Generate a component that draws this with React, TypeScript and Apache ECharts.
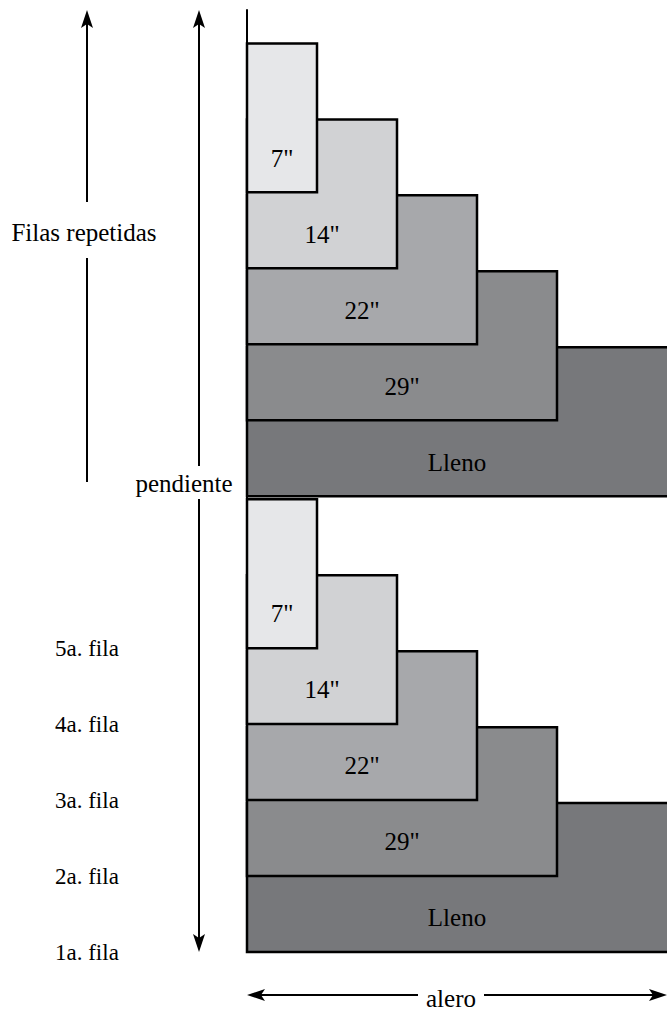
import React, { useEffect, useRef } from "react";
import * as echarts from "echarts";

// Exposure of each tile in a repeated set, from the first course (bottom) upward
const exposureLabels = ["Lleno", '29"', '22"', '14"', '7"'];
// Drawn tile widths in diagram units (the full "Lleno" tile runs off the right edge)
const tileWidths = [45, 31, 23, 15, 7];
// Course number at which each repeated set of five tiles begins
const setStartCourses = [0, 6];
// Course labels on the left, first course at the bottom
const courseLabels = ["1a. fila", "2a. fila", "3a. fila", "4a. fila", "5a. fila"];
// Height of one tile measured in courses
const tileHeightCourses = [1.96];

const tileColors = ["#77787b", "#8a8b8d", "#a7a8ab", "#d1d2d4", "#e6e7e9"];
const FONT = "Liberation Serif, serif";

function arrowHead(x: number, y: number, dir: "up" | "down" | "left" | "right") {
  const L = 18, N = 14, W = 6;
  let pts: number[][] = [];
  if (dir === "up") pts = [[x, y], [x + W, y + L], [x, y + N], [x - W, y + L]];
  if (dir === "down") pts = [[x, y], [x + W, y - L], [x, y - N], [x - W, y - L]];
  if (dir === "left") pts = [[x, y], [x + L, y - W], [x + N, y], [x + L, y + W]];
  if (dir === "right") pts = [[x, y], [x - L, y - W], [x - N, y], [x - L, y + W]];
  return { type: "polygon", shape: { points: pts }, style: { fill: "#000" }, silent: true };
}

function vline(x: number, y1: number, y2: number) {
  return { type: "line", shape: { x1: x, y1, x2: x, y2 }, style: { stroke: "#000", lineWidth: 2 }, silent: true };
}
function hline(y: number, x1: number, x2: number) {
  return { type: "line", shape: { x1, y1: y, x2, y2: y }, style: { stroke: "#000", lineWidth: 2 }, silent: true };
}
function label(text: string, x: number, y: number, size = 25) {
  return {
    type: "text",
    x,
    y,
    style: {
      text,
      fill: "#000",
      fontSize: size,
      fontFamily: FONT,
      align: "center",
      verticalAlign: "middle",
    },
    silent: true,
  };
}

export default function App() {
  const ref = useRef<HTMLDivElement>(null);

  useEffect(() => {
    if (!ref.current) return;
    const chart = echarts.init(ref.current, null, { renderer: "svg" });

    const data: number[][] = [];
    setStartCourses.forEach((start) => {
      tileWidths.forEach((w, i) => {
        data.push([start + i, w, i]);
      });
    });

    const tileH = tileHeightCourses[0];

    const option: any = {
      animation: false,
      backgroundColor: "#fff",
      textStyle: { fontFamily: FONT },
      grid: { left: 247, right: 0, top: 10, bottom: 59, containLabel: false },
      xAxis: {
        type: "value",
        min: 0,
        max: 42,
        show: false,
      },
      yAxis: {
        type: "value",
        min: 0,
        max: 12.4,
        interval: 1,
        axisLine: { show: true, lineStyle: { color: "#000", width: 2 } },
        axisTick: { show: false },
        splitLine: { show: false },
        axisLabel: {
          show: true,
          formatter: (v: number) => courseLabels[v] ?? "",
          align: "left",
          margin: 192,
          color: "#000",
          fontSize: 23,
          fontFamily: FONT,
          padding: [0, 0, 8, 0],
          showMaxLabel: false,
        },
      },
      series: [
        {
          type: "custom",
          clip: false,
          encode: { x: 1, y: 0 },
          data,
          renderItem: (params: any, api: any) => {
            const bottom = api.value(0);
            const width = api.value(1);
            const idx = api.value(2);
            const p0 = api.coord([0, bottom]);
            const p1 = api.coord([width, bottom + tileH]);
            const cs = params.coordSys;
            const right = Math.min(p1[0], cs.x + cs.width);
            const ly = api.coord([0, bottom + 0.45])[1];
            return {
              type: "group",
              children: [
                {
                  type: "rect",
                  shape: { x: p0[0], y: p1[1], width: p1[0] - p0[0], height: p0[1] - p1[1] },
                  style: { fill: tileColors[idx], stroke: "#000", lineWidth: 2.5 },
                },
                {
                  type: "text",
                  style: {
                    text: exposureLabels[idx],
                    x: (p0[0] + right) / 2,
                    y: ly,
                    align: "center",
                    verticalAlign: "middle",
                    fill: "#000",
                    fontSize: 25,
                    fontFamily: FONT,
                  },
                },
              ],
            };
          },
        },
      ],
      graphic: [
        // "Filas repetidas" arrow
        vline(87, 14, 202),
        vline(87, 258, 482),
        arrowHead(87, 10, "up"),
        label("Filas repetidas", 84, 232),
        // "pendiente" double arrow
        vline(199, 14, 466),
        vline(199, 499, 948),
        arrowHead(199, 10, "up"),
        arrowHead(199, 952, "down"),
        label("pendiente", 184, 483),
        // "alero" double arrow
        hline(995, 251, 418),
        hline(995, 484, 663),
        arrowHead(247, 995, "left"),
        arrowHead(667, 995, "right"),
        label("alero", 451, 998),
      ],
    };

    chart.setOption(option);
    return () => chart.dispose();
  }, []);

  return (
    <div
      ref={ref}
      style={{ position: "absolute", left: 0, top: 0, width: 667, height: 1011, background: "#fff" }}
    />
  );
}
